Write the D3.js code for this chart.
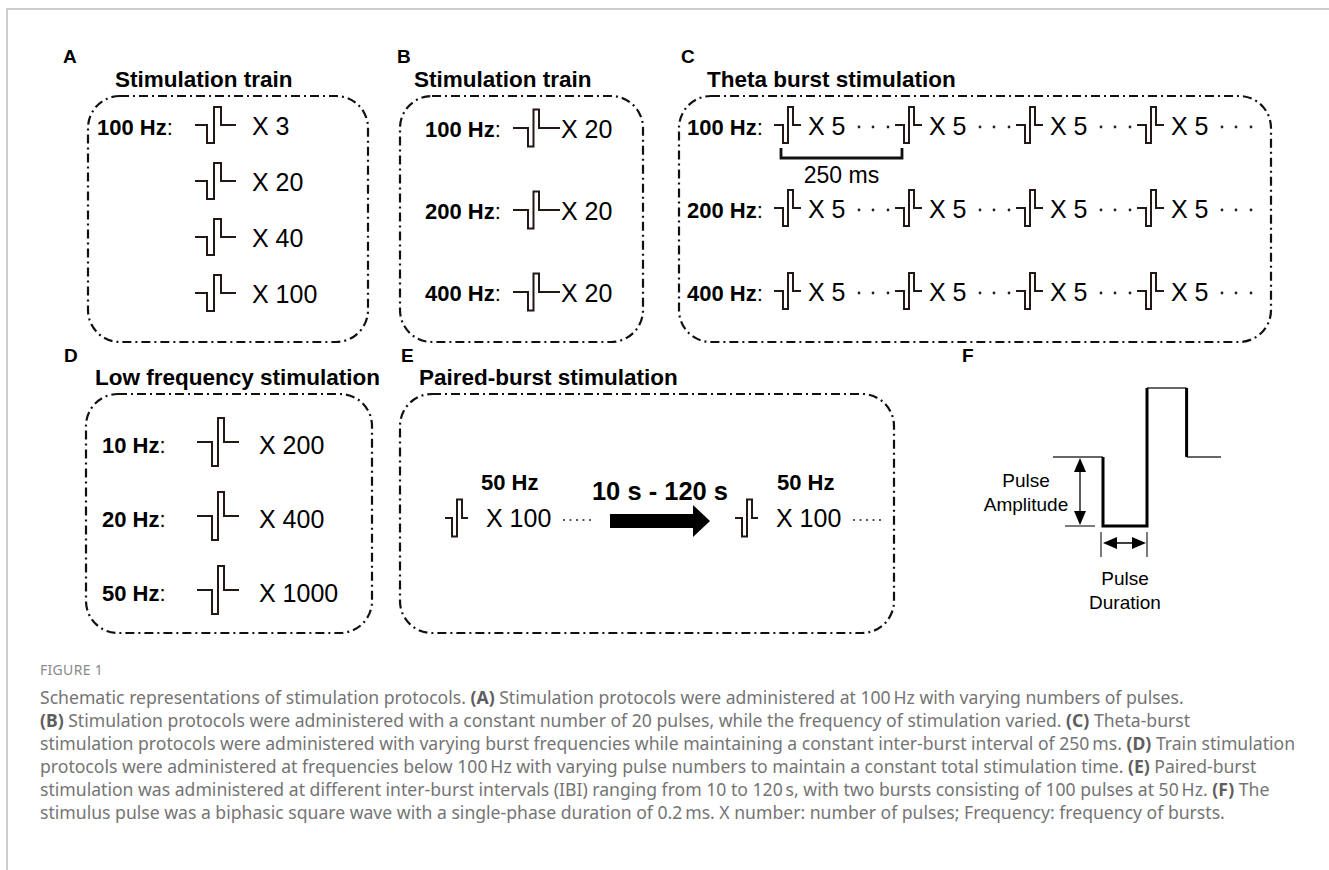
<html>
<head>
<script src="https://d3js.org/d3.v7.min.js"></script>
<style>
  body { margin: 0; background: #fff; }
  svg text { font-family: "Liberation Sans", Arial, Helvetica, sans-serif; fill: #000; }
  .lbl { font-weight: bold; font-size: 22px; }
  .colon { font-size: 22px; }
  .cnt { font-size: 25px; }
  .ttl { font-weight: bold; font-size: 22.5px; }
  .let { font-weight: bold; font-size: 19px; }
  .box { fill: none; stroke: #111; stroke-width: 2.2px; stroke-dasharray: 9,4,2,4; }
  .pulse { fill: none; stroke: #231815; stroke-width: 2px; }
  svg text.cap { font-family: "Noto Sans", "Open Sans", sans-serif; font-size: 17.6px; fill: #747474; }
  svg text.cap tspan.b { font-weight: bold; fill: #5e5e5e; }
  svg text.fig { font-family: "Noto Sans", "Open Sans", sans-serif; font-size: 14px; fill: #8a8a8a; letter-spacing: 0.3px; }
</style>
</head>
<body>
<svg id="fig"></svg>
<script>
// panel texts
var panelLetters = ["A", "B", "C", "D", "E", "F"];
var panelTitles = ["Stimulation train", "Stimulation train", "Theta burst stimulation", "Low frequency stimulation", "Paired-burst stimulation"];

// A: 100 Hz, varying pulse numbers
var trainFreqA = "100 Hz";
var trainCountsA = [3, 20, 40, 100];
// B: constant 20 pulses, varying frequency
var freqsB = ["100 Hz", "200 Hz", "400 Hz"];
var countsB = [20, 20, 20];
// C: theta burst
var freqsC = ["100 Hz", "200 Hz", "400 Hz"];
var burstsC = [0, 1, 2, 3];
var burstCountC = 5;
var intervalC = "250 ms";
// D: low frequency
var freqsD = ["10 Hz", "20 Hz", "50 Hz"];
var countsD = [200, 400, 1000];
// E: paired burst
var pairedBursts = [{ freq: "50 Hz", count: 100 }, { freq: "50 Hz", count: 100 }];
var pairedInterval = "10 s - 120 s";
// F: pulse labels
var pulseLabels = [["Pulse", "Amplitude"], ["Pulse", "Duration"]];

var captionHead = "FIGURE 1";
var captionLines = [
  [["Schematic representations of stimulation protocols. ", 0], ["(A)", 1], [" Stimulation protocols were administered at 100\u2009Hz with varying numbers of pulses.", 0]],
  [["(B)", 1], [" Stimulation protocols were administered with a constant number of 20 pulses, while the frequency of stimulation varied. ", 0], ["(C)", 1], [" Theta-burst", 0]],
  [["stimulation protocols were administered with varying burst frequencies while maintaining a constant inter-burst interval of 250\u2009ms. ", 0], ["(D)", 1], [" Train stimulation", 0]],
  [["protocols were administered at frequencies below 100\u2009Hz with varying pulse numbers to maintain a constant total stimulation time. ", 0], ["(E)", 1], [" Paired-burst", 0]],
  [["stimulation was administered at different inter-burst intervals (IBI) ranging from 10 to 120\u2009s, with two bursts consisting of 100 pulses at 50\u2009Hz. ", 0], ["(F)", 1], [" The", 0]],
  [["stimulus pulse was a biphasic square wave with a single-phase duration of 0.2\u2009ms. X number: number of pulses; Frequency: frequency of bursts.", 0]]
];

var W = 1329, H = 870;
var svg = d3.select("#fig").attr("width", W).attr("height", H);

// page frame
svg.append("path").attr("d", "M7,870 V9 H1329")
  .attr("fill", "none").attr("stroke", "#bdbdbd").attr("stroke-width", 1.5);

// panel layout
var boxes = [
  { x: 88, y: 96, w: 280, h: 246, tx: 115 },
  { x: 400, y: 96, w: 243, h: 246, tx: 414 },
  { x: 679, y: 96, w: 592, h: 246, tx: 707 },
  { x: 86, y: 394, w: 286, h: 239, tx: 95 },
  { x: 400, y: 394, w: 494, h: 239, tx: 419 }
];
var letterPos = [[63, 63], [397, 63], [681, 63], [64, 362], [401, 362], [962, 362]];

svg.selectAll(".let").data(panelLetters).enter().append("text")
  .attr("class", "let")
  .attr("x", function(d, i) { return letterPos[i][0]; })
  .attr("y", function(d, i) { return letterPos[i][1]; })
  .text(function(d) { return d; });

svg.selectAll(".box").data(boxes).enter().append("rect")
  .attr("class", "box")
  .attr("x", function(d) { return d.x; }).attr("y", function(d) { return d.y; })
  .attr("width", function(d) { return d.w; }).attr("height", function(d) { return d.h; })
  .attr("rx", 32).attr("ry", 32);

svg.selectAll(".ttl").data(panelTitles).enter().append("text")
  .attr("class", "ttl")
  .attr("x", function(d, i) { return boxes[i].tx; })
  .attr("y", function(d, i) { return boxes[i].y - 9; })
  .text(function(d) { return d; });

// biphasic pulse glyph
function pulse(g, x0, mid, s) {
  var x1 = x0 + s.stubL, x2 = x1 + s.w, x3 = x2 + s.w, x4 = x3 + s.stubR;
  g.append("path").attr("class", "pulse")
    .attr("d", "M" + x0 + "," + mid + " H" + x1 + " V" + (mid + s.h / 2) + " H" + x2 +
      " V" + (mid - s.h / 2) + " H" + x3 + " V" + mid + " H" + x4);
}
function freqLabel(g, x, y, txt, size) {
  var t = g.append("text").attr("x", x).attr("y", y);
  t.append("tspan").attr("class", "lbl").style("font-size", size + "px").text(txt);
  t.append("tspan").attr("class", "colon").style("font-size", size + "px").text(":");
}

// ---- A
var gA = svg.append("g");
var yA = d3.scalePoint().domain(trainCountsA).range([125, 293]);
freqLabel(gA, 97, yA(trainCountsA[0]) + 10, trainFreqA, 22);
trainCountsA.forEach(function(c) {
  pulse(gA, 195, yA(c), { stubL: 12, w: 7, stubR: 15, h: 36 });
  gA.append("text").attr("class", "cnt").attr("x", 252).attr("y", yA(c) + 10).text("X " + c);
});

// ---- B
var gB = svg.append("g");
var yB = d3.scalePoint().domain(freqsB).range([128, 292]);
freqsB.forEach(function(f, i) {
  freqLabel(gB, 425, yB(f) + 9, f, 22);
  pulse(gB, 513, yB(f), { stubL: 15, w: 5.5, stubR: 21, h: 37 });
  gB.append("text").attr("class", "cnt").attr("x", 561).attr("y", yB(f) + 10).text("X " + countsB[i]);
});

// ---- C
var gC = svg.append("g");
var yC = d3.scalePoint().domain(freqsC).range([125, 291]);
var xC = d3.scaleLinear().domain([0, 3]).range([774, 1137]);
freqsC.forEach(function(f) {
  freqLabel(gC, 687, yC(f) + 10, f, 22);
  burstsC.forEach(function(b) {
    var x0 = xC(b);
    pulse(gC, x0, yC(f), { stubL: 9, w: 5, stubR: 8, h: 36 });
    gC.append("text").attr("class", "cnt").attr("x", x0 + 34).attr("y", yC(f) + 10).text("X " + burstCountC);
    [85, 99, 114].forEach(function(dx) {
      gC.append("circle").attr("cx", x0 + dx).attr("cy", yC(f) + 2).attr("r", 1.4).attr("fill", "#222");
    });
  });
});
// 250 ms bracket between first two bursts
var bx0 = xC(0) + 7, bx1 = xC(1) + 7, by = yC(freqsC[0]) + 33;
gC.append("path").attr("d", "M" + bx0 + "," + (by - 10) + " V" + by + " H" + bx1 + " V" + (by - 10))
  .attr("fill", "none").attr("stroke", "#111").attr("stroke-width", 2.8);
gC.append("text").attr("x", (bx0 + bx1) / 2).attr("y", by + 25).attr("text-anchor", "middle")
  .style("font-size", "23px").text(intervalC);

// ---- D
var gD = svg.append("g");
var yD = d3.scalePoint().domain(freqsD).range([442, 590]);
freqsD.forEach(function(f, i) {
  freqLabel(gD, 102, yD(f) + 11, f, 22);
  pulse(gD, 197, yD(f), { stubL: 15, w: 6, stubR: 15, h: 48 });
  gD.append("text").attr("class", "cnt").attr("x", 259).attr("y", yD(f) + 12).text("X " + countsD[i]);
});

// ---- E
var gE = svg.append("g");
var xE = d3.scaleLinear().domain([0, 1]).range([445, 735]);
var midE = 518;
pairedBursts.forEach(function(p, i) {
  var x0 = xE(i);
  pulse(gE, x0, midE, { stubL: 7, w: 5, stubR: 6, h: 37 });
  gE.append("text").attr("class", "lbl").attr("x", x0 + 36 + i * 6).attr("y", midE - 28).text(p.freq);
  gE.append("text").attr("class", "cnt").attr("x", x0 + 41).attr("y", midE + 9).text("X " + p.count);
  d3.range(5).forEach(function(k) {
    gE.append("circle").attr("cx", x0 + 119 + k * 6.5).attr("cy", midE + 2).attr("r", 1.1).attr("fill", "#333");
  });
});
var ax0 = xE(0) + 165, ax1 = xE(1) - 25;
gE.append("path")
  .attr("d", "M" + ax0 + "," + (midE - 4) + " H" + (ax1 - 17) + " V" + (midE - 13) + " L" + ax1 + "," + (midE + 3) +
    " L" + (ax1 - 17) + "," + (midE + 19) + " V" + (midE + 10) + " H" + ax0 + " Z")
  .attr("fill", "#000");
gE.append("text").attr("class", "lbl").style("font-size", "25.5px")
  .attr("x", (ax0 + ax1) / 2).attr("y", midE - 18).attr("text-anchor", "middle").text(pairedInterval);

// ---- F
var gF = svg.append("g");
var xF = d3.scaleLinear().domain([0, 1]).range([1103, 1147]);   // one phase width
var yF = d3.scaleLinear().domain([-1, 1]).range([526, 388]);    // amplitude
var yMid = 457;
gF.append("path").attr("d", "M1053," + yMid + " H" + xF(0)).attr("stroke", "#333").attr("stroke-width", 1.4).attr("fill", "none");
gF.append("path").attr("d", "M" + xF(1.9) + "," + yMid + " H1221").attr("stroke", "#333").attr("stroke-width", 1.4).attr("fill", "none");
gF.append("path").attr("d", "M" + xF(1) + "," + yF(1) + " H" + xF(1.9)).attr("stroke", "#333").attr("stroke-width", 1.6).attr("fill", "none");
gF.append("path").attr("d", "M" + xF(0) + "," + yMid + " V" + yF(-1) + " H" + xF(1) + " V" + yF(1))
  .attr("stroke", "#000").attr("stroke-width", 3).attr("fill", "none");
gF.append("path").attr("d", "M" + xF(1.9) + "," + yF(1) + " V" + yMid)
  .attr("stroke", "#000").attr("stroke-width", 3).attr("fill", "none");

function arrowHead(g, x, y, dir) { // dir: "u","d","l","r"
  var L = 14, Wd = 6, p;
  if (dir == "u") p = [[x, y], [x - Wd, y + L], [x + Wd, y + L]];
  if (dir == "d") p = [[x, y], [x - Wd, y - L], [x + Wd, y - L]];
  if (dir == "l") p = [[x, y], [x + L, y - Wd], [x + L, y + Wd]];
  if (dir == "r") p = [[x, y], [x - L, y - Wd], [x - L, y + Wd]];
  g.append("polygon").attr("points", p.map(function(q) { return q.join(","); }).join(" ")).attr("fill", "#000");
}
// amplitude arrow
gF.append("line").attr("x1", 1080).attr("x2", 1080).attr("y1", yMid + 4).attr("y2", yF(-1) - 4).attr("stroke", "#000").attr("stroke-width", 1.3);
arrowHead(gF, 1080, yMid + 1, "u");
arrowHead(gF, 1080, yF(-1) - 1, "d");
gF.append("line").attr("x1", 1065).attr("x2", 1095).attr("y1", yF(-1)).attr("y2", yF(-1)).attr("stroke", "#333").attr("stroke-width", 1.3);
// duration arrow
var dY = yF(-1) + 17;
gF.append("line").attr("x1", xF(0) - 2).attr("x2", xF(0) - 2).attr("y1", yF(-1) + 6).attr("y2", yF(-1) + 31).attr("stroke", "#333").attr("stroke-width", 1.3);
gF.append("line").attr("x1", xF(1)).attr("x2", xF(1)).attr("y1", yF(-1) + 6).attr("y2", yF(-1) + 31).attr("stroke", "#333").attr("stroke-width", 1.3);
gF.append("line").attr("x1", xF(0) + 4).attr("x2", xF(1) - 4).attr("y1", dY).attr("y2", dY).attr("stroke", "#000").attr("stroke-width", 1.3);
arrowHead(gF, xF(0), dY, "l");
arrowHead(gF, xF(1) - 1, dY, "r");

var pulseTextPos = [[1026, 487], [(xF(0) + xF(1)) / 2, 585]];
pulseLabels.forEach(function(lines, i) {
  var t = gF.append("text").attr("text-anchor", "middle").style("font-size", "19px")
    .attr("x", pulseTextPos[i][0]).attr("y", pulseTextPos[i][1]);
  lines.forEach(function(s, k) {
    t.append("tspan").attr("x", pulseTextPos[i][0]).attr("dy", k ? 24 : 0).text(s);
  });
});

// ---- caption
svg.append("text").attr("class", "fig").attr("x", 40).attr("y", 675).text(captionHead);
var yCap = d3.scaleLinear().domain([0, 5]).range([704, 819]);
captionLines.forEach(function(segs, i) {
  var t = svg.append("text").attr("class", "cap").attr("x", 40).attr("y", yCap(i));
  segs.forEach(function(s) {
    t.append("tspan").attr("class", s[1] ? "b" : null).text(s[0]);
  });
});
</script>
</body>
</html>
